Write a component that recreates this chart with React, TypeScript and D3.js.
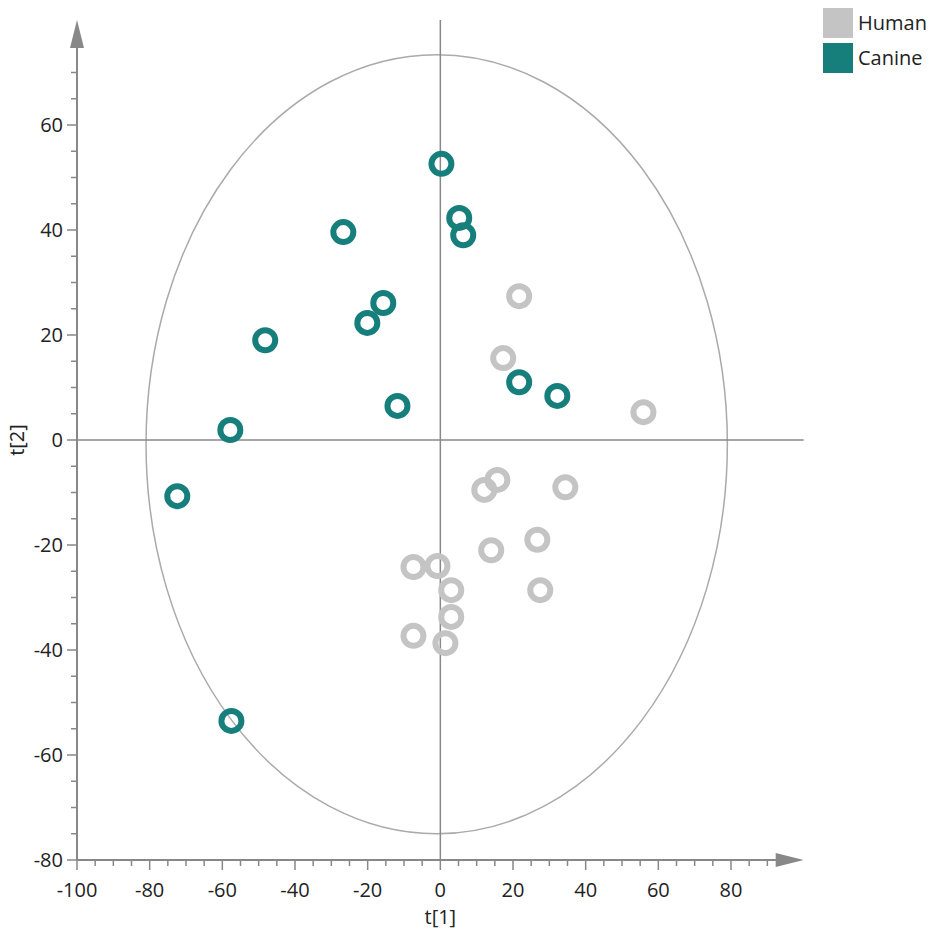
import React from "react";
import * as d3 from "d3";

const width = 931;
const height = 931;
const gray = "#c4c4c4";
const teal = "#167f7c";
const axisColor = "#888888";
const font = "'Open Sans', 'Noto Sans', sans-serif";

// score values: [t1, t2]
const human: [number, number][] = [
  [21.7, 27.4], [17.3, 15.6], [55.9, 5.3], [15.7, -7.6], [12.1, -9.5],
  [34.4, -9], [26.7, -19], [14, -21], [27.5, -28.6], [-7.4, -24.2],
  [-0.8, -24], [3, -28.6], [3, -33.7], [-7.4, -37.3], [1.4, -38.7]
];
const canine: [number, number][] = [
  [0.3, 52.6], [5.2, 42.3], [6.3, 39], [-26.7, 39.6], [-15.7, 26.1],
  [-20.1, 22.3], [-48.2, 19], [-11.8, 6.5], [21.7, 11], [32.2, 8.4],
  [-57.8, 1.9], [-72.4, -10.7], [-57.5, -53.5]
];
const xTicks = [-100, -80, -60, -40, -20, 0, 20, 40, 60, 80];
const yTicks = [-80, -60, -40, -20, 0, 20, 40, 60];
const legend = [
  { label: "Human", color: gray },
  { label: "Canine", color: teal }
];
// Hotelling ellipse centre and half-axes (t1, t2)
const ellipseC = [-1, -0.8];
const ellipseR = [80, 74.2];

const x = d3.scaleLinear().domain([-100, 80]).range([77, 731]);
const y = d3.scaleLinear().domain([-80, 60]).range([860, 125]);

export default function App() {
  const xMinor = d3.range(-100, 91, 5);
  const yMinor = d3.range(-80, 71, 5);
  const x0 = x(-100);
  const y0 = y(-80);
  const xEnd = x(100);
  const yTop = y(80);

  return (
    <svg
      width={width}
      height={height}
      style={{ position: "absolute", left: 0, top: 0, background: "#fff" }}
      fontFamily={font}
    >
      {/* ellipse */}
      <ellipse
        cx={x(ellipseC[0])}
        cy={y(ellipseC[1])}
        rx={x(ellipseR[0]) - x(0)}
        ry={y(0) - y(ellipseR[1])}
        fill="none"
        stroke="#aaaaaa"
        strokeWidth={1.5}
      />
      {/* zero lines */}
      <line x1={x(0)} x2={x(0)} y1={yTop} y2={y0} stroke={axisColor} strokeWidth={1.5} />
      <line x1={x0} x2={xEnd} y1={y(0)} y2={y(0)} stroke={axisColor} strokeWidth={1.5} />

      {/* x axis */}
      <line x1={x0} x2={xEnd - 26} y1={y0} y2={y0} stroke={axisColor} strokeWidth={2} />
      <path
        d={`M${xEnd},${y0} L${xEnd - 28},${y0 - 7} L${xEnd - 28},${y0 + 7} Z`}
        fill={axisColor}
      />
      {xMinor.map(v => (
        <line
          key={"xm" + v}
          x1={x(v)}
          x2={x(v)}
          y1={y0}
          y2={y0 + (v % 20 === 0 ? 10 : 6)}
          stroke={axisColor}
          strokeWidth={1.5}
        />
      ))}
      {xTicks.map(v => (
        <text key={"xt" + v} x={x(v)} y={y0 + 37} textAnchor="middle" fontSize={20} fill="#222">
          {v}
        </text>
      ))}
      <text x={x(0)} y={y0 + 64} textAnchor="middle" fontSize={20} fill="#222">
        t[1]
      </text>

      {/* y axis */}
      <line x1={x0} x2={x0} y1={y0} y2={yTop + 26} stroke={axisColor} strokeWidth={2} />
      <path
        d={`M${x0},${yTop} L${x0 - 7},${yTop + 28} L${x0 + 7},${yTop + 28} Z`}
        fill={axisColor}
      />
      {yMinor.map(v => (
        <line
          key={"ym" + v}
          x1={x0 - (v % 20 === 0 ? 10 : 6)}
          x2={x0}
          y1={y(v)}
          y2={y(v)}
          stroke={axisColor}
          strokeWidth={1.5}
        />
      ))}
      {yTicks.map(v => (
        <text key={"yt" + v} x={x0 - 14} y={y(v) + 7} textAnchor="end" fontSize={20} fill="#222">
          {v}
        </text>
      ))}
      <text
        transform={`translate(24,${y(0)}) rotate(-90)`}
        textAnchor="middle"
        fontSize={20}
        fill="#222"
      >
        t[2]
      </text>

      {/* points */}
      {human.map((d, i) => (
        <circle key={"h" + i} cx={x(d[0])} cy={y(d[1])} r={10} fill="none" stroke={gray} strokeWidth={6} />
      ))}
      {canine.map((d, i) => (
        <circle key={"c" + i} cx={x(d[0])} cy={y(d[1])} r={10} fill="none" stroke={teal} strokeWidth={6} />
      ))}

      {/* legend */}
      {legend.map((l, i) => (
        <g key={l.label} transform={`translate(823,${8 + i * 35})`}>
          <rect width={30} height={30} fill={l.color} />
          <text x={35} y={22} fontSize={20} fill="#222">
            {l.label}
          </text>
        </g>
      ))}
    </svg>
  );
}
